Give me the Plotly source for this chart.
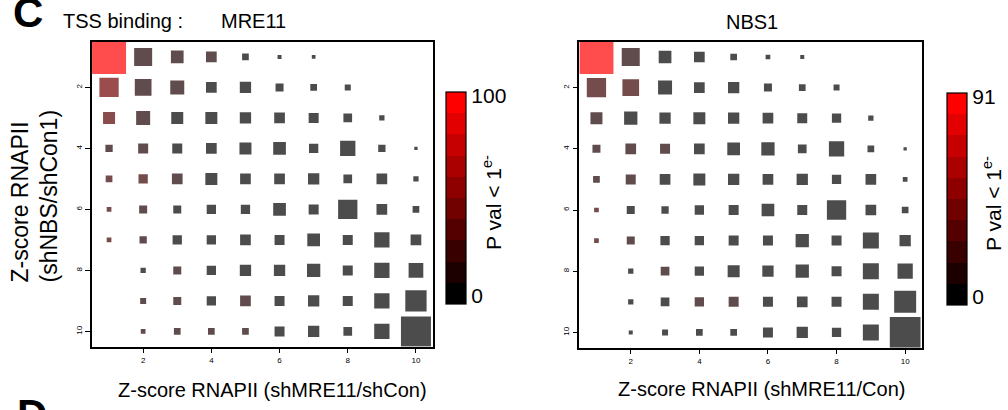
import plotly.graph_objects as go

# ---------------- data ----------------
x_bins = list(range(1, 11))          # Z-score RNAPII (shMRE11/shCon) bins
y_bins = list(range(1, 11))          # Z-score RNAPII (shNBS/shCon1) bins
tick_vals = [2, 4, 6, 8, 10]

# overlap size (rows = y bin 1..10, cols = x bin 1..10); 0 = empty
mre11_size = [
    [34, 18, 12.7, 10.7, 6.7, 4, 3.7, 0, 0, 0],
    [19.3, 16.7, 14, 10.7, 11.3, 8, 6.7, 6, 0, 0],
    [12, 14, 12, 12, 11.3, 10.7, 10, 8.7, 5.3, 0],
    [7.3, 10, 10, 10.7, 12, 12.7, 9.3, 15.3, 7.3, 3.3],
    [6.7, 9.3, 10.7, 12, 10.7, 10.7, 11.3, 8.7, 10.7, 5.3],
    [4.7, 8, 8, 9.3, 9.3, 12.7, 10, 19.3, 10.7, 6.7],
    [4.7, 7.3, 9.3, 9.3, 10.7, 10, 12.7, 10, 15.3, 10.7],
    [0, 5.3, 8, 9.3, 11.3, 11.3, 13.3, 10, 15.3, 14.7],
    [0, 6, 8, 9.3, 10.7, 10, 11.3, 10, 15.3, 21.3],
    [0, 4.7, 6.7, 6.7, 6.7, 10, 11.3, 8.7, 15.3, 30],
]
# -log10 P value (0..100)
mre11_pval = [
    [100, 15, 12, 12, 0, 0, 0, 0, 0, 0],
    [45, 15, 12, 0, 0, 0, 0, 0, 0, 0],
    [35, 12, 0, 0, 0, 0, 0, 0, 0, 0],
    [15, 12, 0, 0, 0, 0, 0, 0, 0, 0],
    [22, 22, 12, 0, 0, 0, 0, 0, 0, 0],
    [22, 12, 0, 0, 0, 0, 0, 0, 0, 0],
    [22, 12, 0, 0, 0, 0, 0, 0, 0, 0],
    [0, 0, 12, 0, 0, 0, 0, 0, 0, 0],
    [0, 12, 15, 0, 12, 0, 0, 0, 0, 0],
    [0, 12, 12, 12, 12, 0, 0, 0, 0, 0],
]
nbs1_size = [
    [34, 18, 12.7, 10.7, 6.7, 4.7, 4, 0, 0, 0],
    [19.3, 16.7, 14, 10.7, 11.3, 8, 6.7, 6, 0, 0],
    [12, 13.3, 11.3, 12, 11.3, 10.7, 10, 9.3, 5.3, 0],
    [8, 10.7, 10, 10.7, 12.7, 13.3, 8.7, 15.3, 6.7, 3.3],
    [6.7, 10, 10.7, 12, 11.3, 10.7, 11.3, 9.3, 10.7, 4.7],
    [4.7, 8, 7.3, 9.3, 10, 12.7, 10, 19.3, 10.7, 6.7],
    [4.7, 8, 9.3, 9.3, 10, 10, 13.3, 10, 16, 11.3],
    [0, 5.3, 8.7, 9.3, 12, 11.3, 13.3, 10, 16, 15.3],
    [0, 5.3, 8.7, 9.3, 10, 10, 10.7, 10, 16, 22],
    [0, 4, 6, 6.7, 6.7, 10, 11.3, 9.3, 16, 30.7],
]
nbs1_pval = [
    [91, 12, 0, 0, 0, 0, 0, 0, 0, 0],
    [25, 25, 0, 0, 0, 0, 0, 0, 0, 0],
    [12, 0, 0, 0, 0, 0, 0, 0, 0, 0],
    [15, 12, 12, 0, 0, 0, 0, 0, 0, 0],
    [15, 12, 0, 0, 0, 0, 0, 0, 0, 0],
    [20, 0, 0, 0, 0, 0, 0, 0, 0, 0],
    [20, 12, 0, 0, 0, 0, 0, 0, 0, 0],
    [0, 0, 15, 0, 0, 0, 0, 0, 0, 0],
    [0, 0, 0, 12, 12, 0, 0, 0, 0, 0],
    [0, 0, 0, 0, 0, 0, 0, 0, 0, 0],
]
mre11_max = 100
nbs1_max = 91

# ---------------- styling helpers ----------------
W, H = 1008, 410
FONT = "Liberation Sans, Arial, Helvetica, sans-serif"
N_BANDS = 10
colorscale = []
for i in range(N_BANDS):
    c = "rgb(%d,0,0)" % round(255 * i / (N_BANDS - 1))
    colorscale.append([i / N_BANDS, c])
    colorscale.append([(i + 1) / N_BANDS, c])


def px_x(p):
    return p / W


def px_y(p):
    return 1 - p / H


def flatten(size, pval):
    xs, ys, ss, cs = [], [], [], []
    for r, yb in enumerate(y_bins):
        for c, xb in enumerate(x_bins):
            if size[r][c] > 0:
                xs.append(xb)
                ys.append(yb)
                ss.append(size[r][c])
                cs.append(pval[r][c])
    return xs, ys, ss, cs


fig = go.Figure()

panels = [
    dict(size=mre11_size, pval=mre11_pval, vmax=mre11_max, xa="x", ya="y",
         cb_left=446, cb_top=91.7, cb_len=211.5),
    dict(size=nbs1_size, pval=nbs1_pval, vmax=nbs1_max, xa="x2", ya="y2",
         cb_left=946.7, cb_top=92.7, cb_len=212.3),
]

for p in panels:
    xs, ys, ss, cs = flatten(p["size"], p["pval"])
    vmax = p["vmax"]
    fig.add_trace(go.Scatter(
        x=xs, y=ys, mode="markers", xaxis=p["xa"], yaxis=p["ya"],
        showlegend=False, hoverinfo="skip",
        marker=dict(
            symbol="square", size=ss, color=cs, colorscale=colorscale,
            cmin=0, cmax=vmax, opacity=0.7, line=dict(width=0),
            colorbar=dict(
                x=px_x(p["cb_left"]), xanchor="left", xpad=0,
                y=px_y(p["cb_top"]), yanchor="top", ypad=0,
                lenmode="pixels", len=p["cb_len"], thickness=20,
                outlinewidth=1.2, outlinecolor="black",
                tickvals=[vmax * 0.04, vmax * 0.98],
                ticktext=["0", str(vmax)],
                ticks="", tickfont=dict(family=FONT, size=21, color="black"),
            ),
        ),
    ))

axis_common = dict(
    range=[0.5, 10.5], tickvals=tick_vals, ticks="outside", ticklen=5,
    tickwidth=1, tickcolor="black", showgrid=False, zeroline=False,
    showline=True, mirror=True, linecolor="black", linewidth=1.5,
    tickfont=dict(family=FONT, size=8, color="black"),
)
yax_common = dict(axis_common)
yax_common["range"] = [10.5, 0.5]
yax_common["tickangle"] = -90

fig.update_layout(
    width=W, height=H, margin=dict(l=0, r=0, t=0, b=0),
    paper_bgcolor="white", plot_bgcolor="white",
    xaxis=dict(axis_common, domain=[px_x(92), px_x(433)], anchor="y"),
    yaxis=dict(yax_common, domain=[px_y(346.7), px_y(41.7)], anchor="x"),
    xaxis2=dict(axis_common, domain=[px_x(579.3), px_x(922.3)], anchor="y2"),
    yaxis2=dict(yax_common, domain=[px_y(347.7), px_y(41.7)], anchor="x2"),
)


def ann(text, x, y, size, xanchor="center", yanchor="middle", angle=0,
        bold=False, align="center"):
    fig.add_annotation(
        text=("<b>%s</b>" % text) if bold else text,
        x=px_x(x), y=px_y(y), xref="paper", yref="paper",
        xanchor=xanchor, yanchor=yanchor, textangle=angle, showarrow=False,
        align=align, font=dict(family=FONT, size=size, color="black"),
    )


ann("C", 11, 38, 42, xanchor="left", yanchor="bottom", bold=True)
ann("D", 15, 389, 42, xanchor="left", yanchor="top", bold=True)
ann("TSS binding :", 61, 21, 20, xanchor="left")
ann("MRE11", 253, 21, 20)
ann("NBS1", 752, 22, 20)
ann("Z-score RNAPII (shMRE11/shCon)", 272, 390, 20)
ann("Z-score RNAPII (shMRE11/Con)", 761, 389, 20)
ann("Z-score RNAPII<br>(shNBS/shCon1)", 34, 285, 23, angle=-90,
    yanchor="bottom", align="left")
ann("P val &lt; 1<sup>e-</sup>", 492, 203, 21, angle=-90)
ann("P val &lt; 1<sup>e-</sup>", 992, 204, 21, angle=-90)

fig.write_html(
    "out.html",
    config={"displayModeBar": False},
    post_script="document.body.style.margin='0';document.body.style.overflow='hidden';",
)
